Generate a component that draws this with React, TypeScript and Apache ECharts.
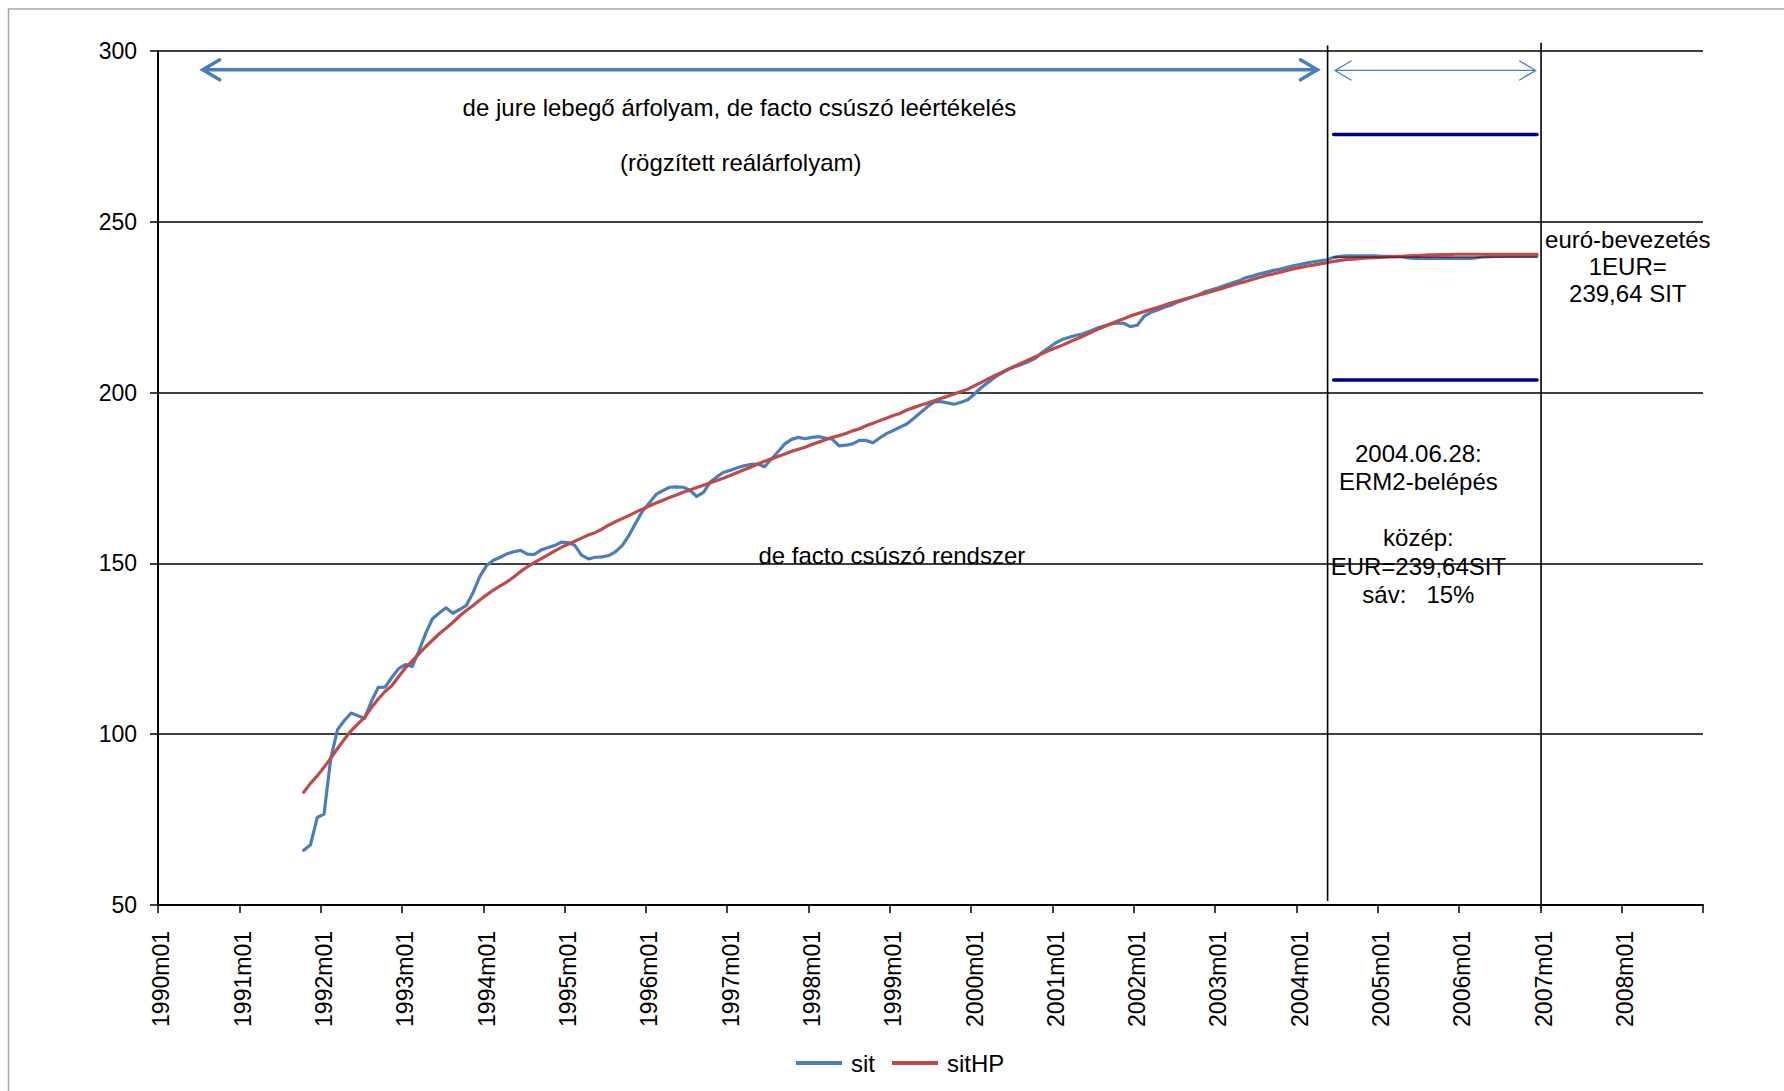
import React, { useEffect, useRef } from "react";
import * as echarts from "echarts";

// Monthly category axis, 1990m01 … 2008m12
const firstYear = 1990;
const lastYear = 2008;
const months: string[] = [];
for (let y = firstYear; y <= lastYear; y++) {
  for (let m = 1; m <= 12; m++) months.push(`${y}m${String(m).padStart(2, "0")}`);
}

// SIT per EUR (ECU), monthly averages, 1991m10 – 2006m12
const seriesStart = "1991m10";
const sit = [
  66.0, 67.6, 75.6,
  76.6, 93.0, 101.4, 104.0, 106.2, 105.4, 104.7, 109.6, 113.7, 113.8, 116.6, 119.2,
  120.4, 119.8, 124.3, 129.5, 133.8, 135.5, 137.0, 135.4, 136.5, 137.7, 141.5, 146.2,
  149.4, 150.9, 151.8, 152.8, 153.4, 153.8, 152.7, 152.6, 153.9, 154.6, 155.2, 156.2,
  156.1, 155.3, 152.4, 151.3, 151.8, 151.9, 152.3, 153.4, 155.2, 158.2, 161.8, 165.3,
  167.7, 170.2, 171.3, 172.3, 172.4, 172.3, 171.4, 169.6, 170.8, 173.8, 175.4, 176.7,
  177.3, 178.0, 178.6, 179.0, 179.1, 178.3, 180.5, 182.7, 185.0, 186.3, 186.9, 186.5,
  186.9, 187.1, 186.7, 186.4, 184.4, 184.6, 185.0, 186.0, 186.0, 185.3, 186.7, 188.0,
  188.9, 189.9, 190.8, 192.4, 194.1, 195.8, 197.2, 197.4, 197.0, 196.6, 197.2, 197.9,
  199.6, 201.5, 203.0, 204.5, 205.7, 206.8, 207.6, 208.3, 209.1, 210.1, 211.8, 213.2,
  214.6, 215.6, 216.2, 216.8, 217.2, 218.0, 218.8, 219.4, 220.1, 220.3, 220.3, 219.3,
  219.7, 222.3, 223.5, 224.2, 225.0, 225.6, 226.5, 227.2, 227.9, 228.6, 229.5, 230.1,
  230.7, 231.4, 232.1, 232.7, 233.6, 234.1, 234.7, 235.2, 235.7, 236.1, 236.6, 237.1,
  237.5, 237.9, 238.3, 238.6, 238.9, 239.6, 239.9, 240.0, 240.0, 240.0, 240.0, 240.0,
  239.9, 239.9, 239.8, 239.8, 239.4, 239.3, 239.3, 239.3, 239.3, 239.3, 239.3, 239.3,
  239.3, 239.3, 239.4, 239.7, 239.8, 239.9, 240.0, 240.0, 240.0, 240.0, 240.0, 240.0,
];

// Hodrick–Prescott trend of the same series
const sitHP = [
  83.0, 85.6, 87.8,
  90.3, 93.0, 95.8, 98.5, 101.0, 103.0, 104.9, 107.8, 110.3, 112.5, 114.2, 116.8,
  119.4, 121.4, 123.5, 125.6, 127.5, 129.4, 131.0, 132.7, 134.6, 136.2, 137.7, 139.3,
  140.8, 142.2, 143.4, 144.6, 146.0, 147.6, 149.0, 150.2, 151.3, 152.4, 153.6, 154.7,
  155.6, 156.5, 157.4, 158.3, 159.0, 160.0, 161.2, 162.2, 163.1, 164.0, 165.0, 165.9,
  166.8, 167.7, 168.5, 169.3, 170.0, 170.8, 171.5, 172.2, 172.9, 173.6, 174.3, 175.0,
  175.8, 176.6, 177.4, 178.2, 179.1, 179.9, 180.6, 181.3, 182.0, 182.8, 183.4, 184.0,
  184.8, 185.5, 186.2, 186.9, 187.4, 188.0, 188.8, 189.4, 190.3, 191.0, 191.8, 192.5,
  193.3, 193.9, 194.9, 195.6, 196.3, 196.9, 197.6, 198.3, 198.9, 199.6, 200.3, 201.0,
  202.0, 203.0, 204.0, 205.0, 205.9, 206.9, 207.8, 208.7, 209.6, 210.5, 211.4, 212.3,
  213.1, 213.9, 214.8, 215.7, 216.5, 217.4, 218.4, 219.2, 220.0, 220.9, 221.6, 222.4,
  223.1, 223.7, 224.3, 224.9, 225.6, 226.2, 226.8, 227.4, 227.9, 228.5, 229.0, 229.6,
  230.2, 230.8, 231.4, 232.0, 232.5, 233.1, 233.7, 234.3, 234.7, 235.2, 235.7, 236.2,
  236.6, 237.0, 237.3, 237.7, 238.0, 238.4, 238.7, 239.0, 239.1, 239.3, 239.4, 239.5,
  239.6, 239.7, 239.8, 239.9, 240.0, 240.1, 240.2, 240.3, 240.3, 240.4, 240.4, 240.5,
  240.5, 240.5, 240.5, 240.5, 240.5, 240.5, 240.5, 240.5, 240.5, 240.5, 240.5, 240.5,
];

// ERM II: central parity and ±15% fluctuation band
const erm2Start = "2004m06";
const bandEnd = "2006m12";
const centralRate = 239.64;
const bandPct = 15;

// Value axis
const yMin = 50;
const yMax = 300;
const yStep = 50;

const FONT = '"Liberation Sans", Arial, sans-serif';
const BLUE = "#4A7EBB";
const RED = "#BE4B48";
const NAVY = "#000080";

function pad(values: number[], from: string): (number | null)[] {
  const out: (number | null)[] = months.map(() => null);
  const i0 = months.indexOf(from);
  values.forEach((v, i) => {
    out[i0 + i] = v;
  });
  return out;
}

function flat(value: number, from: string, to: string): (number | null)[] {
  const i0 = months.indexOf(from);
  const i1 = months.indexOf(to);
  return months.map((_, i) => (i >= i0 && i <= i1 ? value : null));
}

export default function App() {
  const ref = useRef<HTMLDivElement>(null);

  useEffect(() => {
    if (!ref.current) return;
    const chart = echarts.init(ref.current, undefined, { renderer: "svg" });

    const lineSeries = (name: string, data: (number | null)[], color: string, width: number, z: number) => ({
      name,
      type: "line",
      data,
      symbol: "none",
      connectNulls: false,
      z,
      lineStyle: { color, width, cap: "round", join: "round" },
      itemStyle: { color },
      emphasis: { disabled: true },
    });

    chart.setOption({
      animation: false,
      backgroundColor: "#ffffff",
      grid: { left: 158, right: 81, top: 51, bottom: 186, containLabel: false },
      legend: {
        data: ["sit", "sitHP"],
        left: 791,
        top: 1046,
        icon: "rect",
        itemWidth: 46,
        itemHeight: 4,
        itemGap: 17,
        textStyle: { fontFamily: FONT, fontSize: 24, color: "#000", padding: [0, 0, 0, 4] },
      },
      xAxis: {
        type: "category",
        data: months,
        boundaryGap: true,
        axisLine: { show: true, lineStyle: { color: "#000", width: 2 } },
        axisTick: { show: true, interval: 11, length: 8, lineStyle: { color: "#000", width: 1.5 } },
        axisLabel: {
          interval: 11,
          rotate: 90,
          margin: 26,
          padding: [7, 0, 0, 0],
          fontFamily: FONT,
          fontSize: 23,
          color: "#000",
        },
        splitLine: { show: false },
      },
      yAxis: {
        type: "value",
        min: yMin,
        max: yMax,
        interval: yStep,
        axisLine: { show: true, lineStyle: { color: "#000", width: 2 } },
        axisTick: { show: true, length: 8, lineStyle: { color: "#000", width: 1.5 } },
        axisLabel: { margin: 21, fontFamily: FONT, fontSize: 23, color: "#000" },
        splitLine: { show: true, lineStyle: { color: "#000", width: 1.5 } },
      },
      series: [
        lineSeries("sit", pad(sit, seriesStart), BLUE, 3.2, 2),
        lineSeries("sitHP", pad(sitHP, seriesStart), RED, 3.2, 3),
        lineSeries("felső sáv", flat(centralRate * (1 + bandPct / 100), erm2Start, bandEnd), NAVY, 3.5, 4),
        lineSeries("alsó sáv", flat(centralRate * (1 - bandPct / 100), erm2Start, bandEnd), NAVY, 3.5, 4),
        lineSeries("közép", flat(centralRate, erm2Start, bandEnd), "#5a1212", 1.3, 5),
      ],
    });

    // Annotations positioned in axis units: x in months from 1990m01 (band edges), y in SIT
    const c0 = chart.convertToPixel({ xAxisIndex: 0 }, 0) as number;
    const c1 = chart.convertToPixel({ xAxisIndex: 0 }, 1) as number;
    const band = c1 - c0;
    const px = (m: number) => c0 + (m - 0.5) * band;
    const py = (v: number) => chart.convertToPixel({ yAxisIndex: 0 }, v) as number;

    const arrow = (m0: number, m1: number, v: number, width: number, headLen: number, headHalf: number) => {
      const x0 = px(m0);
      const x1 = px(m1);
      const y = py(v);
      const style = { stroke: BLUE, lineWidth: width, fill: "none", lineCap: "round", lineJoin: "miter" };
      return [
        { type: "line", shape: { x1: x0 + 1, y1: y, x2: x1 - 1, y2: y }, style, z: 10 },
        { type: "polyline", shape: { points: [[x0 + headLen, y - headHalf], [x0, y], [x0 + headLen, y + headHalf]] }, style, z: 10 },
        { type: "polyline", shape: { points: [[x1 - headLen, y - headHalf], [x1, y], [x1 - headLen, y + headHalf]] }, style, z: 10 },
      ];
    };

    const vline = (m: number, vTop: number, vBottom: number) => ({
      type: "line",
      shape: { x1: px(m), y1: py(vTop), x2: px(m), y2: py(vBottom) },
      style: { stroke: "#000", lineWidth: 1.6 },
      z: 10,
    });

    const label = (text: string, m: number, v: number, lineHeight = 28) => ({
      type: "text",
      x: px(m),
      y: py(v),
      z: 11,
      style: {
        text,
        fill: "#000",
        font: `24px ${FONT}`,
        fontSize: 24,
        fontFamily: FONT,
        align: "center",
        verticalAlign: "middle",
        textAlign: "center",
        textVerticalAlign: "middle",
        lineHeight,
      },
    });

    chart.setOption({
      graphic: [
        {
          type: "rect",
          shape: { x: 8.5, y: 9, width: 1800, height: 1100 },
          style: { fill: "none", stroke: "#a6a6a6", lineWidth: 1.5 },
          z: 0,
        },
        ...arrow(6.6, 171.1, 294.5, 3.5, 17, 10),
        ...arrow(173.7, 203.3, 294.3, 1.3, 16, 9.5),
        vline(172.6, 301.6, 51.2),
        vline(204.1, 302.4, 49.0),
        label("de jure lebegő árfolyam, de facto csúszó leértékelés", 85.8, 283.4),
        label("(rögzített reálárfolyam)", 86.0, 267.3),
        label("de facto csúszó rendszer", 108.3, 152.4),
        label("2004.06.28:\nERM2-belépés\n\nközép:\nEUR=239,64SIT\nsáv:   15%", 186.0, 161.6, 28.3),
        label("euró-bevezetés\n1EUR=\n239,64 SIT", 216.9, 236.9, 27.2),
      ],
    });

    return () => chart.dispose();
  }, []);

  return (
    <div
      ref={ref}
      style={{ position: "fixed", left: 0, top: 0, width: 1784, height: 1091, background: "#fff" }}
    />
  );
}
